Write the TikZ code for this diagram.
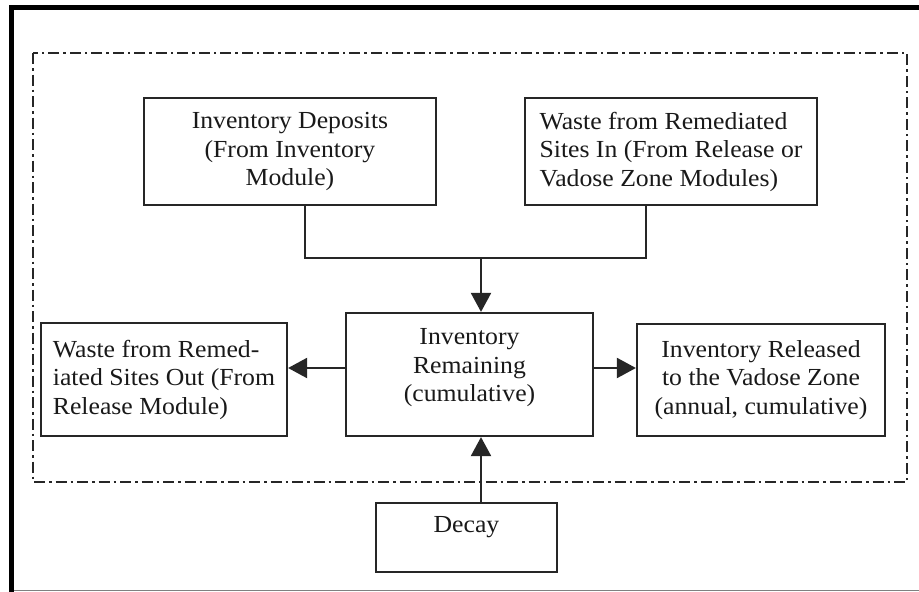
\documentclass[tikz,border=0pt]{standalone}
\usepackage{fontspec}
\setmainfont{Liberation Serif}[FakeStretch=1.05]
\usetikzlibrary{arrows.meta}
\begin{document}
\begin{tikzpicture}[x=1pt,y=-1pt,
  box/.style={draw=black!85, line width=2.2pt, rectangle, inner sep=4pt,
    font=\fontsize{24.5}{28.5}\selectfont, text=black!90},
  conn/.style={draw=black!85, line width=2.2pt},
  arr/.style={conn, -{Triangle[length=19pt,width=20pt]}},
  frame/.style={line width=5pt, black},
  zone/.style={line width=2pt, black!85, dash pattern=on 11pt off 4pt on 2.5pt off 4pt}]
\useasboundingbox (0,0) rectangle (919,592);
% outer frame
\draw[gray, line width=1.2pt] (11.5,590.5) -- (919,590.5);
\draw[frame] (11.5,592) -- (11.5,7.8) -- (919,7.8);
% dash-dot zone
\draw[zone] (33,53) rectangle (907,482);
% boxes
\node[box, minimum width=292pt, minimum height=107pt, align=center] (dep) at (290,151.5)
  {Inventory Deposits\\(From Inventory\\Module)};
\node[box, minimum width=292pt, minimum height=107pt, align=left] (win) at (671,151.5)
  {Waste from Remediated\\Sites In (From Release or\\Vadose Zone Modules)};
\node[box, minimum width=247pt, minimum height=123pt] (rem) at (469.5,374.5)
  {\raisebox{7pt}[\height][\depth]{\begin{tabular}{@{}c@{}}Inventory\\Remaining\\(cumulative)\end{tabular}}};
\node[box, minimum width=246pt, minimum height=113pt, align=left] (out) at (164,379.5)
  {Waste from Remed-\\iated Sites Out (From\\Release Module)};
\node[box, minimum width=248pt, minimum height=112pt, align=center] (rel) at (761,380)
  {Inventory Released\\to the Vadose Zone\\(annual, cumulative)};
\node[box, minimum width=181pt, minimum height=69pt] (decay) at (466.5,537.5)
  {\raisebox{10pt}[\height][\depth]{Decay}};
% connectors
\coordinate (junc) at (481,258);
\draw[conn] ([xshift=15pt]dep.south) |- (junc);
\draw[conn] ([xshift=-25pt]win.south) |- (junc);
\draw[arr] (junc) -- (junc |- rem.north);
\draw[arr] (junc |- decay.north) -- (junc |- rem.south);
\draw[arr] ([yshift=6.5pt]rem.west) coordinate (lw) -- (lw -| out.east);
\draw[arr] ([yshift=6.5pt]rem.east) coordinate (rw) -- (rw -| rel.west);
\end{tikzpicture}
\end{document}
